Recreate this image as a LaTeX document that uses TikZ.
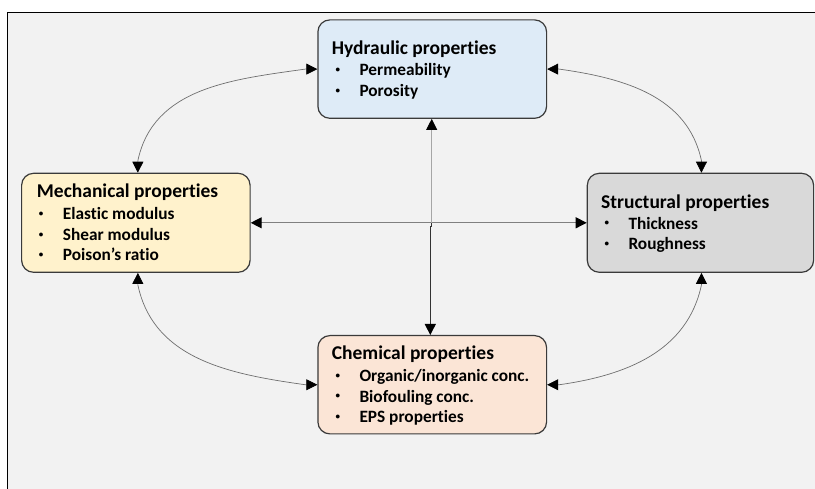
\documentclass[tikz,border=0pt]{standalone}
\usepackage{fontspec}
\setmainfont{Carlito}[Ligatures={NoCommon}]
\usetikzlibrary{arrows.meta}
\definecolor{bgc}{HTML}{F2F2F2}
\definecolor{hydc}{HTML}{DEEBF7}
\definecolor{mechc}{HTML}{FFF2CC}
\definecolor{strc}{HTML}{D9D9D9}
\definecolor{chemc}{HTML}{FBE5D6}
\definecolor{bordc}{HTML}{3A3A3A}
\definecolor{curvc}{HTML}{6E6E6E}
\definecolor{hlinec}{HTML}{808080}
\newcommand{\bul}{\makebox[25pt][l]{\hspace{1pt}\raisebox{3.5pt}{\fontsize{9}{9}\selectfont•}}}
\newcommand{\ttlfont}{\fontsize{19.5}{22}\selectfont\bfseries}
\newcommand{\itmfont}{\fontsize{17.3}{20}\selectfont\bfseries}
\begin{document}
\begin{tikzpicture}[x=1pt,y=-1pt,
  box/.style={draw=bordc, line width=1.2pt, rounded corners=12pt, anchor=north west, inner sep=0pt},
  ttl/.style={anchor=base west, inner sep=0pt, font=\ttlfont},
  itm/.style={anchor=base west, inner sep=0pt, font=\itmfont},
  tip/.tip={Triangle[length=11pt,width=11pt,color=black]},
  conn/.style={line width=1.1pt, draw=hlinec, tip-tip},
  curv/.style={line width=0.7pt, draw=curvc, tip-tip}]
\useasboundingbox (0,0) rectangle (815,489);
\fill[white] (0,0) rectangle (815,489);
\begin{scope}
\clip (0,0) rectangle (815,489);
\draw[fill=bgc, line width=1pt] (7,13) rectangle (840,520);
\end{scope}
% boxes
\node[box, fill=hydc, minimum width=228.7pt, minimum height=98.4pt] (hyd) at (317.3,19.3) {};
\node[box, fill=mechc, minimum width=228.5pt, minimum height=99pt] (mech) at (21,172.7) {};
\node[box, fill=strc, minimum width=226.3pt, minimum height=99pt] (str) at (586.7,172.7) {};
\node[box, fill=chemc, minimum width=228.7pt, minimum height=98.3pt] (chem) at (317.3,335) {};
% texts
\node[ttl] (hydt) at (331.7,54.3) {Hydraulic properties};
\node[itm] (hyd1) at (334.3,76) {\bul Permeability};
\node[itm] (hyd2) at (334.3,96.7) {\bul Porosity};
\node[ttl] (mecht) at (36.7,197.7) {Mechanical properties};
\node[itm] (mech1) at (37.7,220) {\bul Elastic modulus};
\node[itm] (mech2) at (37.7,241) {\bul Shear modulus};
\node[itm] (mech3) at (37.7,260.7) {\bul Poison’s ratio};
\node[ttl] (strt) at (601,208.3) {Structural properties};
\node[itm] (str1) at (603.3,229.3) {\bul Thickness};
\node[itm] (str2) at (603.3,250) {\bul Roughness};
\node[ttl] (chemt) at (331.7,360) {Chemical properties};
\node[itm] (chem1) at (334.3,381.7) {\bul Organic/inorganic conc.};
\node[itm] (chem2) at (334.3,402.3) {\bul Biofouling conc.};
\node[itm] (chem3) at (334.3,422.7) {\bul EPS properties};
% connectors
\draw[conn] (mech.east) -- (str.west);
\coordinate (c1) at (431.7,222.7);
\coordinate (c2) at (430.3,226.7);
\draw[line width=0.9pt, draw=black!35, -tip] (c1) -- (c1 |- hyd.south);
\draw[line width=0.9pt, draw=black!80] (c1) |- (c2);
\draw[line width=0.9pt, draw=black!80, -tip] (c2) -- (c2 |- chem.north);
\coordinate (mn) at ([xshift=2pt]mech.north);
\coordinate (ms) at ([xshift=2pt]mech.south);
\coordinate (sn) at ([xshift=1pt]str.north);
\coordinate (ss) at ([xshift=1pt]str.south);
\draw[curv] (hyd.west) -- ++(-12,0) to[out=188,in=78] ([yshift=12pt]mn) -- (mn);
\draw[curv] (hyd.east) -- ++(12,0) to[out=-8,in=102] ([yshift=12pt]sn) -- (sn);
\draw[curv] (ms) -- ([yshift=-12pt]ms) to[out=-78,in=172] ([xshift=-12pt]chem.west) -- (chem.west);
\draw[curv] (ss) -- ([yshift=-12pt]ss) to[out=-102,in=8] ([xshift=12pt]chem.east) -- (chem.east);
\end{tikzpicture}
\end{document}
